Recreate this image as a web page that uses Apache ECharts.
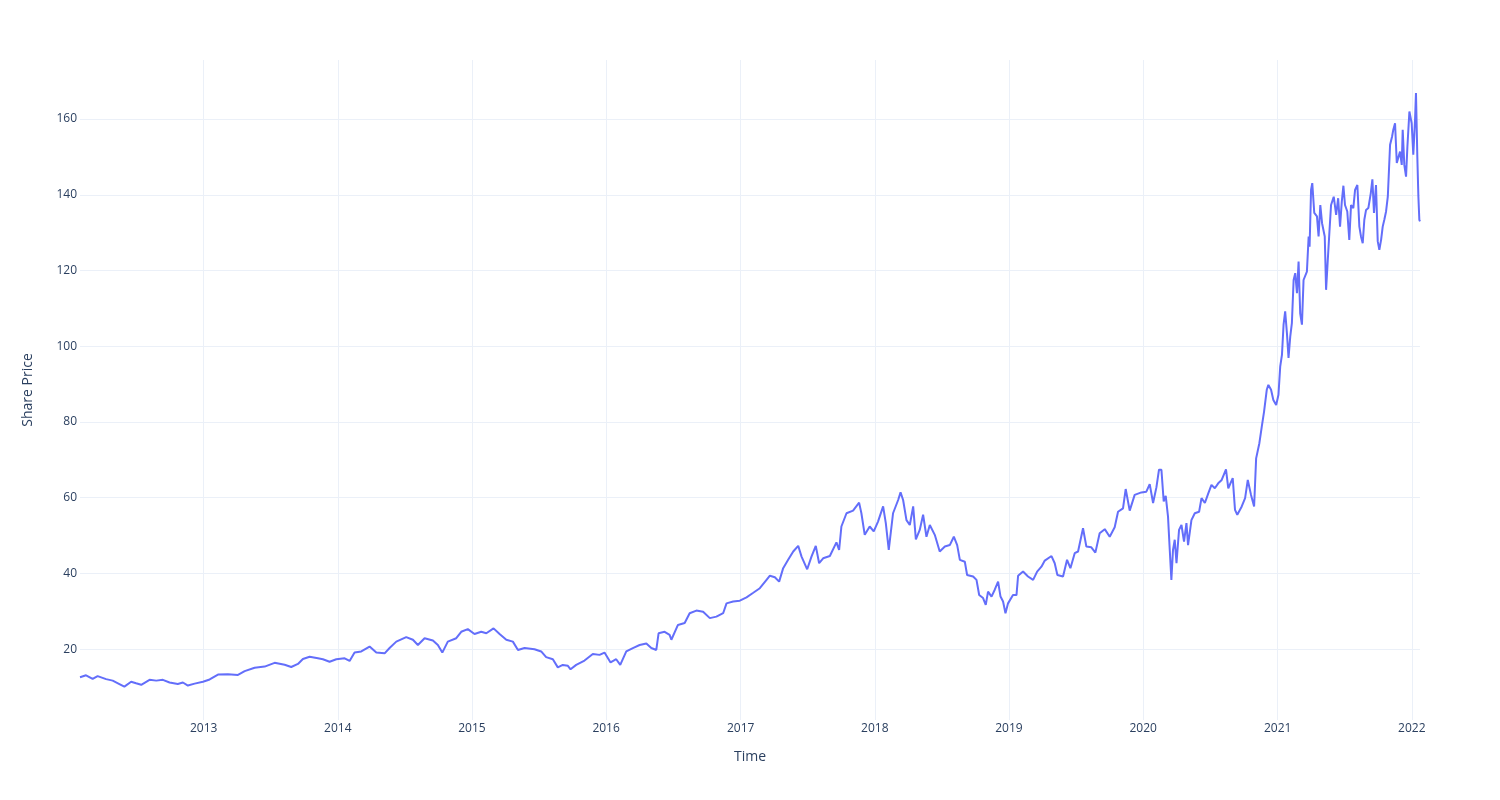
<!DOCTYPE html>
<html>
<head>
<meta charset="utf-8">
<script src="https://cdn.jsdelivr.net/npm/echarts@6/dist/echarts.min.js"></script>
<style>html,body{margin:0;padding:0;background:#fff}#chart{width:1500px;height:800px}</style>
</head>
<body>
<div id="chart"></div>
<script>
// Time positions (decimal years)
const timeYears = [
2012.081,2012.126,2012.175,2012.212,2012.275,2012.324,2012.374,2012.411,2012.461,2012.498,2012.536,2012.598,2012.648,2012.697,2012.747,2012.808,2012.846,2012.883,2012.933,2012.995,
2013.045,2013.107,2013.181,2013.256,2013.306,2013.380,2013.455,2013.529,2013.604,2013.653,2013.703,2013.740,2013.790,2013.852,2013.889,2013.939,2013.989,
2014.051,2014.088,2014.125,2014.175,2014.237,2014.287,2014.349,2014.386,2014.436,2014.510,2014.560,2014.597,2014.647,2014.709,2014.746,2014.779,2014.820,2014.883,2014.920,2014.969,
2015.019,2015.069,2015.107,2015.161,2015.206,2015.256,2015.305,2015.343,2015.392,2015.466,2015.516,2015.553,2015.603,2015.640,2015.677,2015.715,2015.735,2015.777,2015.839,2015.901,2015.951,2015.988,
2016.033,2016.075,2016.105,2016.150,2016.199,2016.249,2016.299,2016.336,2016.373,2016.390,2016.435,2016.472,2016.485,2016.534,2016.584,2016.621,2016.671,2016.721,2016.771,2016.820,2016.870,2016.895,2016.944,2016.994,
2017.044,2017.094,2017.143,2017.193,2017.218,2017.255,2017.287,2017.317,2017.354,2017.392,2017.429,2017.454,2017.496,2017.528,2017.560,2017.585,2017.615,2017.665,2017.714,2017.734,2017.751,2017.789,2017.838,2017.883,2017.900,2017.925,2017.962,2017.992,
2018.024,2018.062,2018.082,2018.104,2018.136,2018.174,2018.192,2018.211,2018.236,2018.261,2018.286,2018.306,2018.335,2018.360,2018.385,2018.410,2018.447,2018.484,2018.522,2018.559,2018.589,2018.614,2018.634,2018.671,2018.688,2018.733,2018.758,2018.778,2018.807,2018.827,2018.844,2018.870,2018.894,2018.919,2018.937,2018.956,2018.974,2018.993,
2019.030,2019.056,2019.068,2019.105,2019.142,2019.180,2019.210,2019.242,2019.267,2019.317,2019.341,2019.361,2019.403,2019.433,2019.458,2019.490,2019.515,2019.552,2019.577,2019.614,2019.644,2019.676,2019.714,2019.751,2019.788,2019.813,2019.850,2019.870,2019.900,2019.937,2019.987,
2020.024,2020.049,2020.074,2020.099,2020.118,2020.136,2020.153,2020.168,2020.185,2020.198,2020.210,2020.222,2020.235,2020.248,2020.267,2020.285,2020.304,2020.322,2020.334,2020.359,2020.384,2020.416,2020.434,2020.459,2020.483,2020.508,2020.533,2020.558,2020.584,2020.616,2020.633,2020.666,2020.683,2020.700,2020.733,2020.758,2020.778,2020.802,2020.825,2020.840,2020.864,2020.882,2020.899,2020.919,2020.931,2020.951,2020.968,2020.989,
2021.006,2021.019,2021.032,2021.044,2021.056,2021.069,2021.081,2021.094,2021.106,2021.119,2021.131,2021.144,2021.156,2021.168,2021.181,2021.193,2021.206,2021.218,2021.231,2021.238,2021.249,2021.258,2021.273,2021.293,2021.305,2021.318,2021.331,2021.343,2021.351,2021.361,2021.373,2021.386,2021.398,2021.418,2021.436,2021.451,2021.465,2021.478,2021.490,2021.502,2021.519,2021.534,2021.547,2021.564,2021.577,2021.594,2021.609,2021.621,2021.634,2021.646,2021.659,2021.676,2021.694,2021.706,2021.718,2021.733,2021.746,2021.758,2021.771,2021.783,2021.795,2021.808,2021.821,2021.838,2021.853,2021.862,2021.875,2021.888,2021.900,2021.912,2021.925,2021.932,2021.944,2021.957,2021.967,2021.982,2021.999,
2022.011,2022.024,2022.031,2022.041,2022.049,2022.056,2022.061
];
// Share price values
const sharePrice = [
12.6,13.1,12.15,12.9,12.1,11.7,10.8,10.1,11.4,11.0,10.6,11.9,11.7,11.9,11.2,10.8,11.2,10.4,10.9,11.4,
12.0,13.3,13.4,13.2,14.2,15.1,15.4,16.4,15.9,15.3,16.1,17.4,18.0,17.6,17.35,16.7,17.35,
17.6,16.9,19.1,19.4,20.7,19.1,18.9,20.3,22.0,23.2,22.5,21.1,22.9,22.3,21.1,19.1,22.0,22.9,24.6,25.3,
24.0,24.6,24.2,25.5,24.0,22.5,22.0,19.8,20.3,20.0,19.4,17.9,17.35,15.2,15.85,15.6,14.7,15.85,17.0,18.75,18.5,19.1,
16.5,17.35,15.85,19.4,20.3,21.1,21.5,20.3,19.8,24.2,24.6,23.8,22.5,26.4,26.9,29.5,30.2,29.9,28.2,28.6,29.5,32.1,32.6,32.8,
33.7,34.9,36.1,38.3,39.4,39.0,37.85,41.4,43.6,45.8,47.3,44.45,41.1,44.45,47.3,42.7,44.0,44.6,48.2,46.2,52.4,55.9,56.6,58.7,55.9,50.2,52.4,51.1,
53.7,57.7,53.3,46.2,55.9,59.4,61.4,59.4,54.1,52.8,57.7,49.0,51.5,55.5,49.7,52.8,50.2,45.8,47.1,47.5,49.7,47.5,43.6,43.1,39.6,39.2,38.3,34.3,33.5,31.7,35.2,33.9,35.7,37.85,33.9,32.6,29.5,32.1,
34.3,34.3,39.4,40.5,39.2,38.3,40.5,41.8,43.4,44.6,42.7,39.6,39.2,43.6,41.4,45.35,45.8,51.95,47.1,46.9,45.5,50.6,51.7,49.7,52.2,56.3,57.2,62.3,56.6,60.75,61.4,
61.6,63.6,58.6,62.8,67.4,67.4,59.0,60.5,55.0,46.2,38.3,46.2,48.9,42.7,51.5,52.8,48.4,53.3,47.5,54.1,55.9,56.3,59.9,58.6,61.0,63.4,62.5,63.8,64.7,67.5,62.5,65.2,56.8,55.5,57.7,59.9,64.7,60.75,57.7,70.4,74.4,78.8,82.75,88.5,89.8,88.5,85.8,84.5,
87.2,94.6,97.7,105.7,109.2,103.5,96.9,102.6,106.1,117.5,119.3,114.0,122.4,108.7,105.7,117.5,117.1,119.7,129.0,126.3,141.3,143.1,135.2,134.3,129.0,137.3,132.5,132.9,129.0,114.9,122.4,130.3,137.3,139.5,134.7,139.1,131.6,138.2,142.4,137.3,135.6,128.1,137.3,136.5,141.3,142.6,131.6,129.0,127.2,133.4,136.0,136.5,140.4,144.1,135.2,142.6,127.7,125.5,128.1,131.6,133.4,135.6,139.5,153.2,155.4,157.2,158.9,148.4,147.9,151.4,147.9,157.2,147.9,144.8,152.7,162.0,158.9,
150.6,159.8,166.9,150.1,139.5,133.4,133.0
];
const xAxisTitle = 'Time';
const yAxisTitle = 'Share Price';

function yearToTime(t) {
  const y = Math.floor(t);
  const start = Date.UTC(y, 0, 1);
  const end = Date.UTC(y + 1, 0, 1);
  return start + (t - y) * (end - start);
}
const seriesData = timeYears.map((t, i) => [yearToTime(t), sharePrice[i]]);

const FONT = '"Open Sans", verdana, arial, sans-serif';
const chart = echarts.init(document.getElementById('chart'), null, {renderer: 'canvas'});
chart.setOption({
  animation: false,
  backgroundColor: '#ffffff',
  grid: {left: 80, right: 80, top: 60, bottom: 80, containLabel: false},
  xAxis: {
    type: 'time',
    min: 'dataMin',
    max: 'dataMax',
    splitNumber: 10,
    minInterval: 365 * 86400000,
    name: xAxisTitle,
    nameLocation: 'middle',
    nameGap: 30,
    nameTextStyle: {color: '#2a3f5f', fontSize: 14, fontFamily: FONT},
    axisLine: {show: false},
    axisTick: {show: false},
    axisLabel: {
      color: '#2a3f5f', fontSize: 12, fontFamily: FONT, margin: 3,
      showMinLabel: false, showMaxLabel: false,
      formatter: '{yyyy}'
    },
    splitLine: {show: true, lineStyle: {color: '#EBF0F8', width: 1}, showMinLine: false, showMaxLine: false}
  },
  yAxis: {
    type: 'value',
    min: 1.3,
    max: 175.6,
    splitNumber: 9,
    name: yAxisTitle,
    nameLocation: 'middle',
    nameGap: 45,
    nameTextStyle: {color: '#2a3f5f', fontSize: 14, fontFamily: FONT},
    axisLine: {show: false},
    axisTick: {show: false},
    axisLabel: {
      color: '#2a3f5f', fontSize: 12, fontFamily: FONT, margin: 3,
      showMinLabel: false, showMaxLabel: false
    },
    splitLine: {show: true, lineStyle: {color: '#EBF0F8', width: 1}, showMinLine: false, showMaxLine: false}
  },
  series: [{
    type: 'line',
    data: seriesData,
    showSymbol: false,
    symbol: 'none',
    lineStyle: {color: '#636efa', width: 2},
    itemStyle: {color: '#636efa'}
  }]
});
</script>
</body>
</html>
